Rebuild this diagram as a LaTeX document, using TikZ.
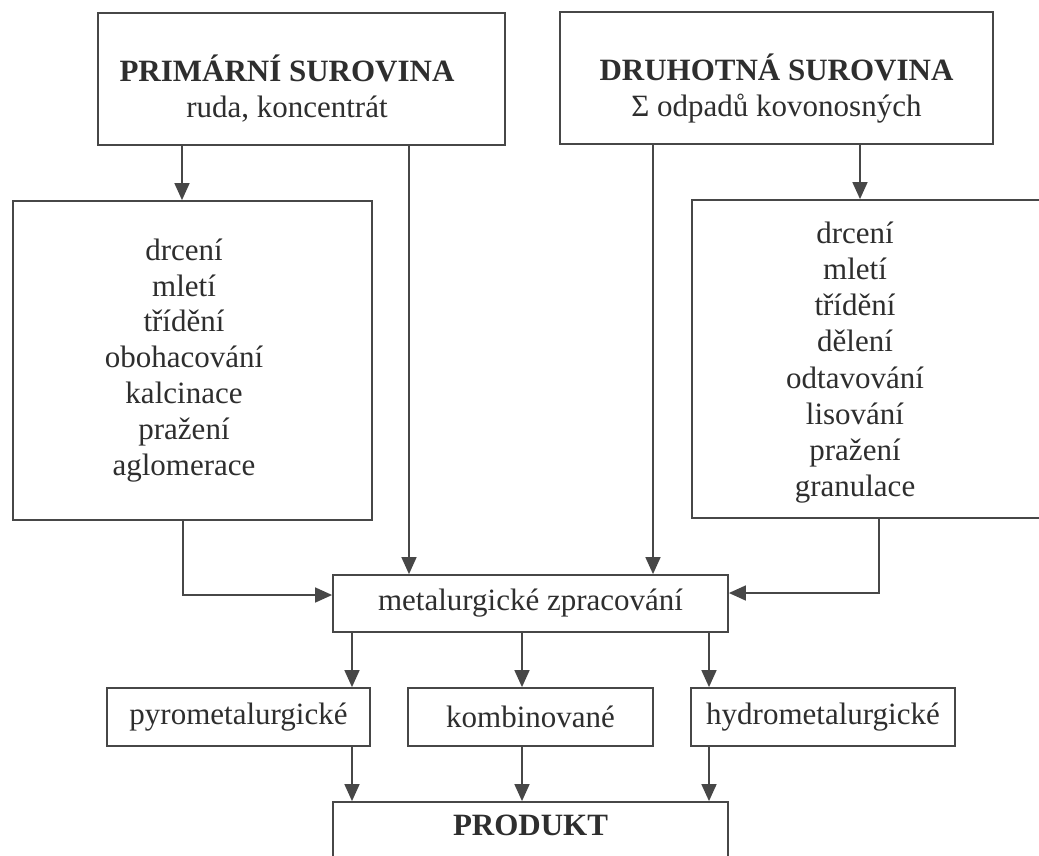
\documentclass[tikz,border=0pt]{standalone}
\usepackage{fontspec}
\setmainfont{Liberation Serif}
\usetikzlibrary{arrows.meta}
\begin{document}
\begin{tikzpicture}[x=1pt,y=-1pt,
  box/.style={draw=black!72, line width=1.8pt, inner sep=0pt, align=center, text=black!82,
    font=\fontsize{31}{35.8}\selectfont},
  arr/.style={draw=black!72, line width=1.6pt, -{Triangle[length=17pt,width=15pt]}}]
\useasboundingbox (0,0) rectangle (1039,855);
\fill[white] (0,0) rectangle (1039,855);
% boxes
\node[box, minimum width=407pt, minimum height=132pt] (prim) at (301.5,79)
  {\raisebox{-19pt}[0pt][0pt]{\begin{tabular}{@{}c@{}}{\bfseries PRIMÁRNÍ SUROVINA}\\ruda, koncentrát\end{tabular}}\hspace{29pt}};
\node[box, minimum width=433pt, minimum height=132pt] (druh) at (776.5,78)
  {\raisebox{-19pt}[0pt][0pt]{\begin{tabular}{@{}c@{}}{\bfseries DRUHOTNÁ SUROVINA}\\Σ odpadů kovonosných\end{tabular}}};
\node[box, minimum width=359pt, minimum height=319pt] (lbox) at (192.5,360.5)
  {\begin{tabular}{@{}c@{}}drcení\\mletí\\třídění\\obohacování\\kalcinace\\pražení\\aglomerace\end{tabular}\hspace{17pt}};
\node[box, minimum width=358pt, minimum height=318pt] (rbox) at (871,359)
  {\raisebox{-10pt}[0pt][0pt]{\renewcommand{\arraystretch}{1.01}\begin{tabular}{@{}c@{}}drcení\\mletí\\třídění\\dělení\\odtavování\\lisování\\pražení\\granulace\end{tabular}}\hspace{32pt}};
\node[box, minimum width=395pt, minimum height=57pt] (metal) at (530.5,603.5) {metalurgické zpracování};
\node[box, minimum width=263pt, minimum height=58pt] (pyro) at (238.5,717) {pyrometalurgické};
\node[box, minimum width=245pt, minimum height=58pt] (komb) at (530.5,717) {kombinované};
\node[box, minimum width=264pt, minimum height=58pt] (hydro) at (823,717) {hydrometalurgické};
\node[box, minimum width=395pt, minimum height=58pt] (prod) at (530.5,831)
  {\raisebox{-4pt}[0pt][0pt]{\bfseries PRODUKT}};
% connector columns
\coordinate (c1) at (182,0);
\coordinate (c2) at (409,0);
\coordinate (c3) at (653,0);
\coordinate (c4) at (860,0);
\coordinate (jl) at (183,595);
\coordinate (jr) at (879,593);
\coordinate (d1) at (352,0);
\coordinate (d2) at (522,0);
\coordinate (d3) at (709,0);
% connectors
\draw[arr] (prim.south -| c1) -- (lbox.north -| c1);
\draw[arr] (prim.south -| c2) -- (metal.north -| c2);
\draw[arr] (druh.south -| c3) -- (metal.north -| c3);
\draw[arr] (druh.south -| c4) -- (rbox.north -| c4);
\draw[arr] (lbox.south -| jl) |- (metal.west |- jl);
\draw[arr] (rbox.south -| jr) |- (metal.east |- jr);
\draw[arr] (metal.south -| d1) -- (pyro.north -| d1);
\draw[arr] (metal.south -| d2) -- (komb.north -| d2);
\draw[arr] (metal.south -| d3) -- (hydro.north -| d3);
\draw[arr] (pyro.south -| d1) -- (prod.north -| d1);
\draw[arr] (komb.south -| d2) -- (prod.north -| d2);
\draw[arr] (hydro.south -| d3) -- (prod.north -| d3);
\end{tikzpicture}
\end{document}
